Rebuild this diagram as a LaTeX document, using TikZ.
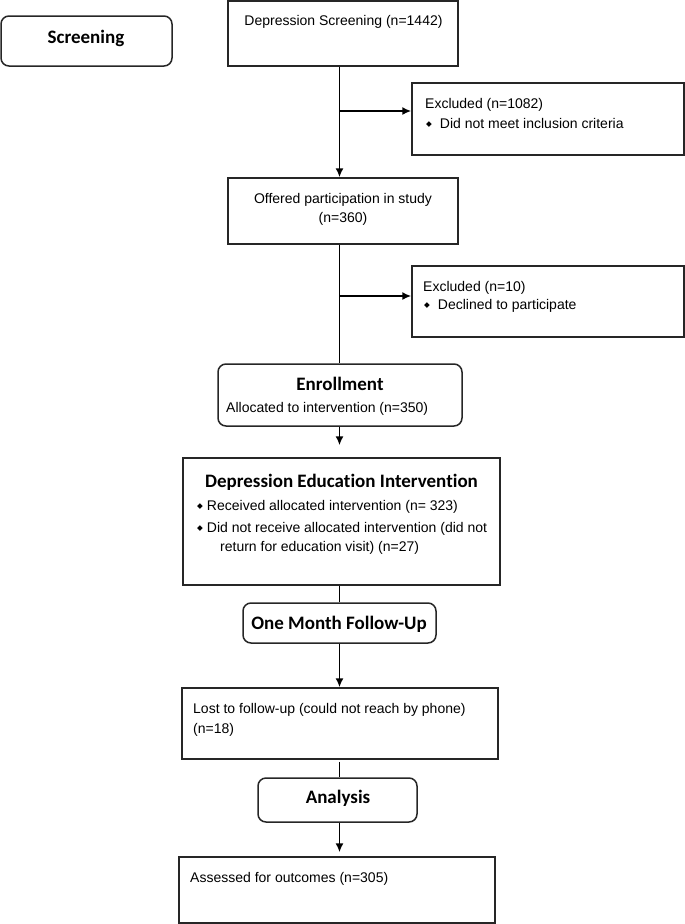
\documentclass[tikz,border=0pt]{standalone}
\usepackage{fontspec}
\setmainfont{Liberation Sans}
\newfontfamily\headfont{Carlito}[RawFeature={-liga}]
\newfontfamily\symfont{DejaVu Sans}
\usetikzlibrary{arrows.meta, positioning}
\tikzset{
	box/.style={draw=black!85, line width=1.5pt, inner sep=0pt},
	rbox/.style={box, rounded corners=8pt},
	txt/.style={inner sep=0pt, align=left, font=\fontsize{14}{19}\selectfont},
	head/.style={inner sep=0pt, font=\headfont\bfseries\fontsize{19}{23}\selectfont},
	ln/.style={line width=1.6pt},
	arr/.style={ln, -{Latex[length=9pt,width=8pt]}}
}
\newcommand{\bul}{\raisebox{1.5pt}{\symfont\fontsize{7.5}{7.5}\selectfont ◆}}

\begin{document}
\begin{tikzpicture}[x=1pt, y=-1pt]
		\useasboundingbox (0,0) rectangle (685,924);
		
		\node[rbox, minimum width=171pt, minimum height=50pt] (scr) at (86.5,41) {};
		\node[box, minimum width=230pt, minimum height=65pt] (ds) at (343,33.5) {};
		\node[box, minimum width=272pt, minimum height=72pt] (exc1) at (548,119) {};
		\node[box, minimum width=230pt, minimum height=66pt] (off) at (343,211) {};
		\node[box, minimum width=272pt, minimum height=71pt] (exc2) at (548,301.5) {};
		\node[rbox, minimum width=244pt, minimum height=62pt] (enr) at (340,395) {};
		\node[box, minimum width=317pt, minimum height=127pt] (dei) at (341.5,521.5) {};
		\node[rbox, minimum width=193pt, minimum height=40pt] (omf) at (339.5,623) {};
		\node[box, minimum width=316pt, minimum height=71pt] (lost) at (340,723.5) {};
		\node[rbox, minimum width=159pt, minimum height=44pt] (ana) at (337.5,800) {};
		\node[box, minimum width=316pt, minimum height=66pt] (ass) at (337,890) {};
		
		\node[head, anchor=base] at (86,43) {Screening};
		\node[txt, anchor=north] at (343.5,15) {Depression Screening (n=1442)};
		\node[txt, anchor=north west] at (425,98) {Excluded (n=1082)\\[1pt]\hspace*{1pt}\bul\hspace{8pt}Did not meet inclusion criteria};
		\node[txt, anchor=north, align=center] at (343,193) {Offered participation in study\\(n=360)};
		\node[txt, anchor=north west] at (423,281) {Excluded (n=10)\\[-1pt]\hspace*{1pt}\bul\hspace{8pt}Declined to participate};
		\node[head, anchor=base] at (340,390) {Enrollment};
		\node[txt, anchor=north west] at (226,402) {Allocated to intervention (n=350)};
		\node[head, anchor=base] at (341.5,487) {Depression Education Intervention};
		\node[txt, anchor=north west] at (197,500) {\bul\hspace{4pt}Received allocated intervention (n= 323)\\[3pt]\bul\hspace{4pt}Did not receive allocated intervention (did not\\\hspace*{23pt}return for education visit) (n=27)};
		\node[head, anchor=base] at (339,629) {One Month Follow-Up};
		\node[txt, anchor=north west] at (193,703) {Lost to follow-up (could not reach by phone)\\[1pt](n=18)};
		\node[head, anchor=base] at (338,803) {Analysis};
		\node[txt, anchor=north west] at (190,872) {Assessed for outcomes (n=305)};
		
		\coordinate (sp) at (339.5,0);
		\coordinate (b1) at (339.5,111);
		\coordinate (b2) at (339.5,296);
		\draw[arr] (ds.south -| sp) -- (off.north -| sp);
		\draw[arr] (b1) -- (b1 -| exc1.west);
		\draw[ln] (off.south -| sp) -- (enr.north -| sp);
		\draw[arr] (b2) -- (b2 -| exc2.west);
		\draw[arr, shorten >=12pt] (enr.south -| sp) -- (dei.north -| sp);
		\draw[ln] (dei.south -| sp) -- (omf.north -| sp);
		\draw[arr] (omf.south -| sp) -- (lost.north -| sp);
		\draw[ln, shorten <=2pt] (lost.south -| sp) -- (ana.north -| sp);
		\draw[arr, shorten >=4pt] (ana.south -| sp) -- (ass.north -| sp);
\end{tikzpicture}
\end{document}
